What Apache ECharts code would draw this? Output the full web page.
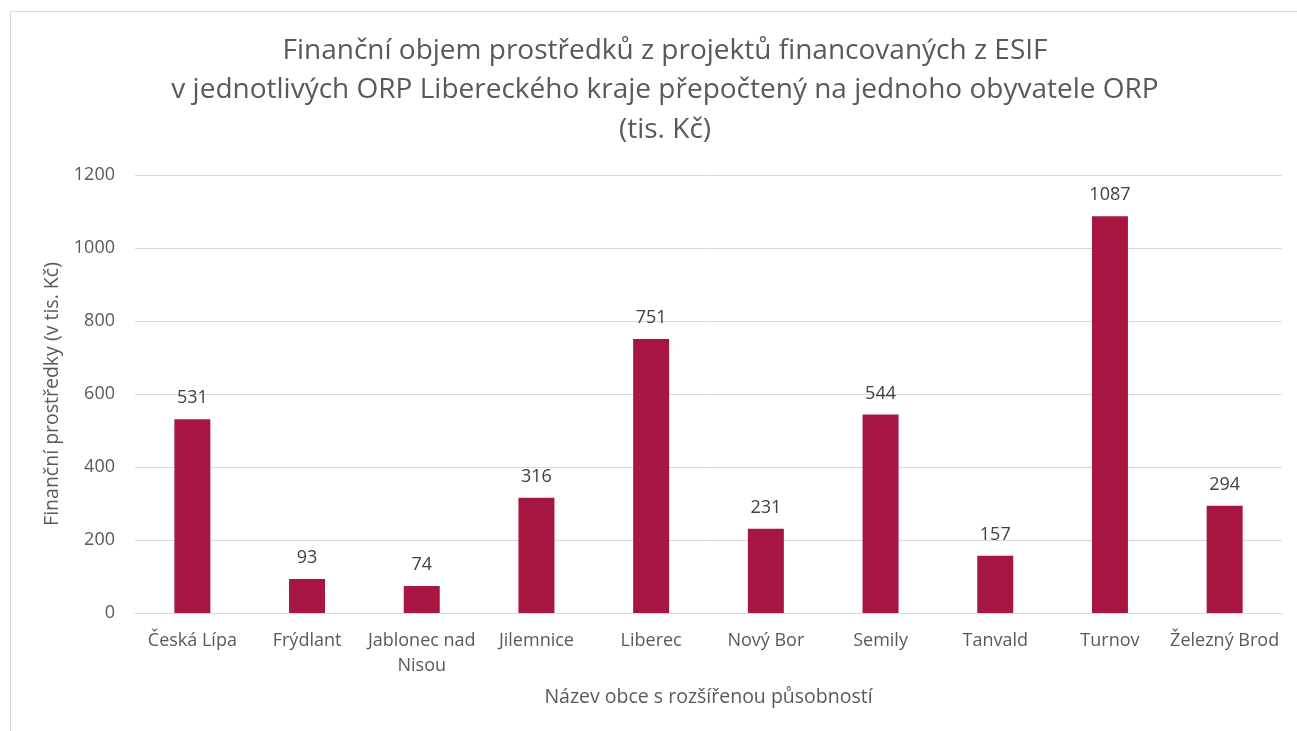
<!DOCTYPE html>
<html>
<head>
<meta charset="utf-8">
<script src="https://cdn.jsdelivr.net/npm/echarts@6/dist/echarts.min.js"></script>
<style>
  html, body { margin: 0; padding: 0; background: #fff; }
  #frame { position: absolute; left: 10px; top: 11px; width: 1300px; height: 730px; border: 1px solid #d9d9d9; }
  #chart { position: absolute; left: 0; top: 0; width: 1297px; height: 731px; }
</style>
</head>
<body>
<div id="frame"></div>
<div id="chart"></div>
<script>
// ORP v Libereckém kraji
var categories = ["Česká Lípa", "Frýdlant", "Jablonec nad\nNisou", "Jilemnice", "Liberec", "Nový Bor", "Semily", "Tanvald", "Turnov", "Železný Brod"];
var values = [531, 93, 74, 316, 751, 231, 544, 157, 1087, 294];
var yTicks = [0, 200, 400, 600, 800, 1000, 1200];

var fontFam = "'Open Sans', sans-serif";
var grey = "#595959";

var chart = echarts.init(document.getElementById("chart"), null, { renderer: "canvas" });
chart.setOption({
    animation: false,
    backgroundColor: "transparent",
    title: {
        text: "Finanční objem prostředků z projektů financovaných z ESIF\nv jednotlivých ORP Libereckého kraje přepočtený na jednoho obyvatele ORP\n(tis. Kč)",
        left: 660,
        top: 26,
        textAlign: "center",
        textStyle: { fontFamily: fontFam, fontSize: 28, fontWeight: "normal", color: grey, lineHeight: 39.5 }
    },
    grid: { left: 135, right: 15, top: 175, bottom: 118, containLabel: false },
    xAxis: {
        type: "category",
        data: categories,
        name: "Název obce s rozšířenou působností",
        nameLocation: "middle",
        nameGap: 74,
        nameTextStyle: { fontFamily: fontFam, fontSize: 19.5, color: grey },
        axisTick: { show: false },
        axisLine: { lineStyle: { color: "#d9d9d9", width: 1 } },
        axisLabel: { fontFamily: fontFam, fontSize: 18, color: grey, margin: 15, lineHeight: 25, interval: 0 }
    },
    yAxis: {
        type: "value",
        min: yTicks[0],
        max: yTicks[yTicks.length - 1],
        interval: 200,
        name: "Finanční prostředky (v tis. Kč)",
        nameLocation: "middle",
        nameGap: 68,
        nameTextStyle: { fontFamily: fontFam, fontSize: 19.5, color: grey },
        axisLine: { show: false },
        axisTick: { show: false },
        splitLine: { lineStyle: { color: "#d9d9d9", width: 1 } },
        axisLabel: { fontFamily: fontFam, fontSize: 18, color: grey, margin: 20, formatter: function (v) { return String(v); } }
    },
    series: [{
        type: "bar",
        data: values,
        barWidth: 36,
        itemStyle: { color: "#A61641" },
        label: {
            show: true,
            position: "top",
            distance: 12,
            fontFamily: fontFam,
            fontSize: 18,
            color: "#404040"
        }
    }]
});
</script>
</body>
</html>
